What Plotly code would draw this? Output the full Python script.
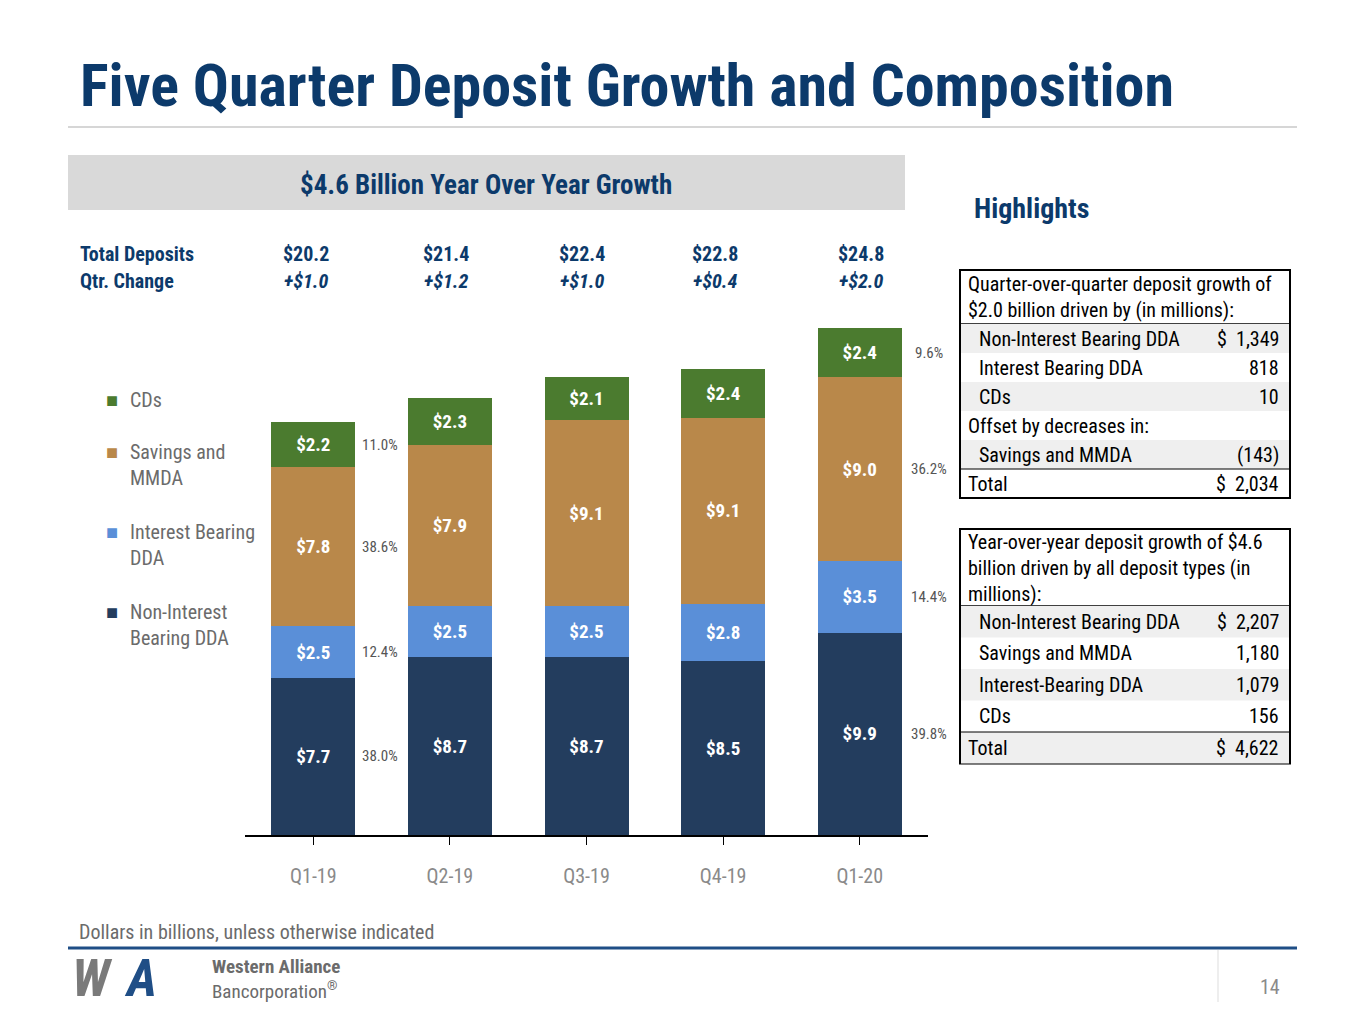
import plotly.graph_objects as go

quarters = ["Q1-19", "Q2-19", "Q3-19", "Q4-19", "Q1-20"]
non_int = [7.7, 8.7, 8.7, 8.5, 9.9]
int_bear = [2.5, 2.5, 2.5, 2.8, 3.5]
savings = [7.8, 7.9, 9.1, 9.1, 9.0]
cds = [2.2, 2.3, 2.1, 2.4, 2.4]
totals = ["$20.2", "$21.4", "$22.4", "$22.8", "$24.8"]
changes = ["+$1.0", "+$1.2", "+$1.0", "+$0.4", "+$2.0"]
pct_q119 = ["38.0%", "12.4%", "38.6%", "11.0%"]
pct_q120 = ["39.8%", "14.4%", "36.2%", "9.6%"]
series_names = ["Non-Interest<br>Bearing DDA", "Interest Bearing<br>DDA", "Savings and<br>MMDA", "CDs"]
colors = ["#233d5e", "#5a8fd8", "#b9884a", "#4b7b2f"]

qoq_rows = [("Non-Interest Bearing DDA", "$  1,349", True), ("Interest Bearing DDA", "818", True),
            ("CDs", "10", True), ("Offset by decreases in:", "", False),
            ("Savings and MMDA", "(143)", True), ("Total", "$  2,034", False)]
yoy_rows = [("Non-Interest Bearing DDA", "$  2,207", True), ("Savings and MMDA", "1,180", True),
            ("Interest-Bearing DDA", "1,079", True), ("CDs", "156", True), ("Total", "$  4,622", False)]

W, H = 1365, 1024
OFF = 8
def px(x): return (x - OFF) / W
def py(y): return 1 - (y - OFF) / H

FONT = "Roboto Condensed, Liberation Sans Narrow, Roboto, Arial"
NAVY = "#0c3a6b"
fig = go.Figure()
series = [non_int, int_bear, savings, cds]
for s, nm, c in zip(series, series_names, colors):
    fig.add_trace(go.Bar(x=quarters, y=s, name=nm, marker_color=c, marker_line_width=0,
                         text=["<b>$%.1f</b>" % v for v in s], textposition="inside",
                         insidetextanchor="middle",
                         textfont=dict(color="white", size=19, family=FONT), showlegend=False))

fig.update_layout(barmode="stack", bargap=0.385, width=W, height=H,
                  margin=dict(l=0, r=0, t=0, b=0), plot_bgcolor="white", paper_bgcolor="white",
                  font=dict(family=FONT), uniformtext=dict(minsize=17, mode="show"))
fig.update_xaxes(domain=[px(245), px(928)], range=[-0.5, 4.5], showline=True, linecolor="black", linewidth=2,
                 ticks="outside", tickcolor="black", ticklen=8, ticklabelstandoff=14,
                 tickfont=dict(size=20, color="#8a8a8a", family=FONT))
fig.update_yaxes(domain=[py(835), py(290)], range=[0, (835 - 290) / ((835 - 328) / 24.8)],
                 visible=False)

ann = []
shapes = []
def A(x, y, t, size=19, color="black", xa="left", ya="middle", **kw):
    ann.append(dict(x=px(x), y=py(y), xref="paper", yref="paper", text=t, showarrow=False,
                    xanchor=xa, yanchor=ya, font=dict(size=size, color=color, family=FONT), **kw))

# title
A(78, 85, "<b>Five Quarter Deposit Growth and Composition</b>", size=60, color=NAVY)
shapes.append(dict(type="line", xref="paper", yref="paper", x0=px(68), x1=px(1297), y0=py(127), y1=py(127),
                   line=dict(color="#c8c8c8", width=1.5)))
# banner
shapes.append(dict(type="rect", xref="paper", yref="paper", x0=px(68), x1=px(905), y0=py(155), y1=py(210),
                   fillcolor="#d9d9d9", line_width=0))
A(486, 185, "<b>$4.6 Billion Year Over Year Growth</b>", size=27, color=NAVY, xa="center")
A(78, 254, "<b>Total Deposits</b>", size=20, color=NAVY)
A(78, 281, "<b>Qtr. Change</b>", size=20, color=NAVY)
tot_x = [306, 446, 582, 715, 861]
for i in range(5):
    A(tot_x[i], 254, "<b>%s</b>" % totals[i], size=20, color=NAVY, xa="center")
    A(tot_x[i], 281, "<b><i>%s</i></b>" % changes[i], size=20, color=NAVY, xa="center")

# percentage labels
def cum(idx, j):
    return sum(series[k][idx] for k in range(j)) + series[j][idx] / 2
for j in range(4):
    ann.append(dict(x=quarters[0], y=cum(0, j), xref="x", yref="y", text=pct_q119[j], showarrow=False,
                    xshift=67, font=dict(size=15, color="#555", family=FONT)))
    ann.append(dict(x=quarters[4], y=cum(4, j), xref="x", yref="y", text=pct_q120[j], showarrow=False,
                    xshift=69, font=dict(size=15, color="#555", family=FONT)))

# legend
leg_y = [625, 545, 465, 400]
for j in range(4):
    A(104, leg_y[j] if j == 3 else leg_y[j] - 13, "■", size=20, color=colors[j])
    A(128, leg_y[j], series_names[j], size=20, color="#6b6b6b", align="left")

# Highlights
A(972, 208, "<b>Highlights</b>", size=28, color=NAVY)

def table(top, header_lines, rows, row_h, x0=960, x1=1290):
    hh = 23 * len(header_lines) + 8
    bottom = top + hh + row_h * len(rows)
    shapes.append(dict(type="rect", xref="paper", yref="paper", x0=px(x0), x1=px(x1), y0=py(top), y1=py(bottom),
                       line=dict(color="black", width=2)))
    A(966, top + hh / 2, "<br>".join(header_lines), size=20, color="black", align="left")
    y = top + hh
    shapes.append(dict(type="line", xref="paper", yref="paper", x0=px(x0), x1=px(x1), y0=py(y), y1=py(y),
                       line=dict(color="black", width=1.5)))
    for i, (lab, val, indent) in enumerate(rows):
        if i % 2 == 0:
            shapes.append(dict(type="rect", xref="paper", yref="paper", x0=px(x0 + 1), x1=px(x1 - 1),
                               y0=py(y), y1=py(y + row_h), fillcolor="#efefef", line_width=0))
        if lab == "Total":
            shapes.append(dict(type="line", xref="paper", yref="paper", x0=px(x0), x1=px(x1), y0=py(y), y1=py(y),
                               line=dict(color="black", width=1)))
        A(977 if indent else 966, y + row_h / 2, lab, size=20, color="black")
        A(1281, y + row_h / 2, val, size=20, color="black", xa="right")
        y += row_h
    return bottom

table(270, ["Quarter-over-quarter deposit growth of", "$2.0 billion driven by (in millions):"], qoq_rows, 29)
table(529, ["Year-over-year deposit growth of $4.6", "billion driven by all deposit types (in", "millions):"], yoy_rows, 31.5)

# footer
A(77, 932, "Dollars in billions, unless otherwise indicated", size=20, color="#6b6b6b")
shapes.append(dict(type="line", xref="paper", yref="paper", x0=px(68), x1=px(1297), y0=py(948), y1=py(948),
                   line=dict(color="#1f4e86", width=3)))
shapes.append(dict(type="line", xref="paper", yref="paper", x0=px(1218), x1=px(1218), y0=py(950), y1=py(1002),
                   line=dict(color="#dddddd", width=1)))
A(1282, 987, "14", size=20, color="#8a8a8a", xa="right")
A(70, 978, "<b><i>W</i></b>", size=52, color="#7a7a7a")
A(122, 978, "<b><i>A</i></b>", size=52, color="#1f4e86")
A(210, 966, "<b>Western Alliance</b>", size=19, color="#6b6b6b")
A(210, 990, "Bancorporation<sup>®</sup>", size=19, color="#6b6b6b")

fig.update_layout(annotations=ann, shapes=shapes)
fig.write_html("out.html")
